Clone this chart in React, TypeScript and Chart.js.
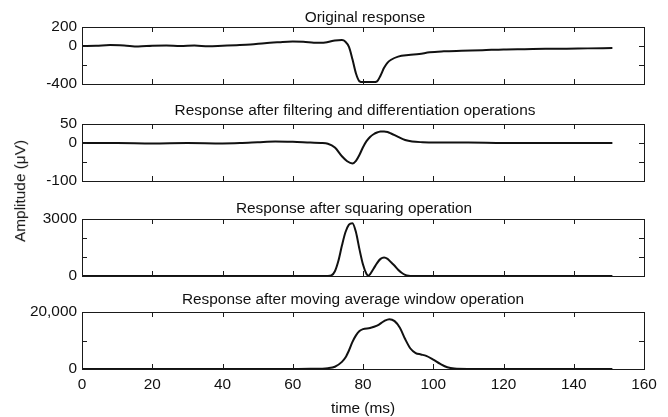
import React, { useEffect, useRef } from 'react';
import { Chart, registerables } from 'chart.js';

Chart.register(...registerables);

// ---------- data ----------
const xTicks = [0, 20, 40, 60, 80, 100, 120, 140, 160];
const xTickLabels = ['0', '20', '40', '60', '80', '100', '120', '140', '160'];

const panelTitles = [
  'Original response',
  'Response after filtering and differentiation operations',
  'Response after squaring operation',
  'Response after moving average window operation',
];

const timeOriginal = [0, 4, 8, 12, 16, 20, 24, 28, 32, 36, 40, 44, 48, 52, 56, 60, 63, 66, 68, 70, 72, 74, 75, 76, 77, 78, 79, 80, 83, 84, 85, 86, 87, 88, 90, 93, 96, 99, 103, 108, 114, 120, 126, 132, 138, 144, 151];
const valuesOriginal = [0, 2, 10, 5, -5, 3, 6, 0, 4, -2, 3, 8, 15, 30, 40, 48, 46, 35, 33, 42, 58, 62, 45, -10, -140, -290, -372, -380, -380, -372, -310, -230, -175, -145, -112, -95, -85, -66, -56, -50, -44, -36, -33, -30, -28, -25, -22];

const timeFiltered = [0, 10, 20, 30, 40, 45, 50, 55, 60, 65, 68, 70, 72, 74, 75.5, 77, 78, 79, 80, 81, 82, 83, 84, 85, 86, 87, 88, 90, 92, 94, 97, 100, 110, 120, 130, 140, 151];
const valuesFiltered = [0, 0, -1, 0, -1, 0, 2, 4, 3, 1, 0, -2, -12, -35, -48, -54, -47, -31, -11, 5, 16, 23, 27.5, 30, 30.5, 29, 25, 16, 8, 4, 2, 1, 1, 0, 0, 0, 0];

const timeSquared = [0, 30, 60, 70, 71, 72, 73, 74, 75, 76, 77, 78, 79, 80, 81, 81.5, 82, 83, 84, 85, 86, 87, 88, 89, 90, 91, 92, 93, 94, 100, 120, 151];
const valuesSquared = [0, 0, 0, 0, 30, 250, 800, 1600, 2300, 2700, 2780, 2300, 1400, 600, 100, 15, 90, 380, 680, 900, 970, 900, 720, 540, 330, 170, 60, 10, 0, 0, 0, 0];

const timeAveraged = [0, 30, 60, 65, 70, 72, 74, 75, 76, 77, 78, 79, 80, 82, 84, 86, 87.5, 89, 90.5, 92, 93.5, 95, 96.5, 98, 100, 102, 104, 106, 110, 130, 151];
const valuesAveraged = [0, 0, 0, 50, 300, 800, 2500, 4000, 6500, 9500, 11800, 13300, 14000, 14400, 15200, 16800, 17500, 16800, 14500, 10500, 7200, 5600, 5100, 4600, 3300, 1800, 600, 150, 20, 0, 0];

const yTicksOriginal = [-400, -200, 0, 200];
const yTickLabelsOriginal = ['-400', '', '0', '200'];
const yTicksFiltered = [-100, -50, 0, 50];
const yTickLabelsFiltered = ['-100', '', '0', '50'];
const yTicksSquared = [0, 1000, 2000, 3000];
const yTickLabelsSquared = ['0', '', '', '3000'];
const yTicksAveraged = [0, 10000, 20000];
const yTickLabelsAveraged = ['0', '', '20,000'];

const xAxisTitle = 'time (ms)';
const yAxisTitle = 'Amplitude (\u03BCV)';

// ---------- layout ----------
const W = 668;
const H = 417;
const FONT = "'Liberation Sans', Arial, Helvetica, sans-serif";
const FS = 15.4;

type PanelDef = {
  title: string;
  times: number[];
  values: number[];
  yTicks: number[];
  yLabels: string[];
  top: number;
  bottom: number;
  titleX: number;
  titleY: number;
  showX: boolean;
};

const panels: PanelDef[] = [
  { title: panelTitles[0], times: timeOriginal, values: valuesOriginal, yTicks: yTicksOriginal, yLabels: yTickLabelsOriginal, top: 27, bottom: 84, titleX: 365, titleY: 16.5, showX: false },
  { title: panelTitles[1], times: timeFiltered, values: valuesFiltered, yTicks: yTicksFiltered, yLabels: yTickLabelsFiltered, top: 124, bottom: 181, titleX: 355, titleY: 110, showX: false },
  { title: panelTitles[2], times: timeSquared, values: valuesSquared, yTicks: yTicksSquared, yLabels: yTickLabelsSquared, top: 219, bottom: 276, titleX: 354, titleY: 207.5, showX: false },
  { title: panelTitles[3], times: timeAveraged, values: valuesAveraged, yTicks: yTicksAveraged, yLabels: yTickLabelsAveraged, top: 312, bottom: 369, titleX: 353, titleY: 299, showX: true },
];

const PLOT_LEFT = 82;
const PLOT_RIGHT = 644;

const framePlugin = {
  id: 'frame',
  afterDatasetsDraw(chart: any, _args: any, opts: any) {
    const { ctx, chartArea: a, scales } = chart;
    const xs = scales.x;
    const ys = scales.y;
    ctx.save();
    ctx.strokeStyle = '#1a1a1a';
    ctx.lineWidth = 1;
    ctx.strokeRect(Math.round(a.left) + 0.5, Math.round(a.top) + 0.5, Math.round(a.right - a.left), Math.round(a.bottom - a.top));
    const L = 5;
    ctx.beginPath();
    (opts.xTicks as number[]).forEach((v) => {
      const px = Math.round(xs.getPixelForValue(v)) + 0.5;
      ctx.moveTo(px, a.top);
      ctx.lineTo(px, a.top + L);
      ctx.moveTo(px, a.bottom);
      ctx.lineTo(px, a.bottom - L);
    });
    (opts.yTicks as number[]).forEach((v) => {
      const py = Math.round(ys.getPixelForValue(v)) + 0.5;
      ctx.moveTo(a.left, py);
      ctx.lineTo(a.left + L, py);
      ctx.moveTo(a.right, py);
      ctx.lineTo(a.right - L, py);
    });
    ctx.stroke();
    ctx.restore();
  },
};

function Panel({ def }: { def: PanelDef }) {
  const ref = useRef<HTMLCanvasElement | null>(null);
  useEffect(() => {
    if (!ref.current) return;
    const yMin = def.yTicks[0];
    const yMax = def.yTicks[def.yTicks.length - 1];
    const xAxisHeight = 48;
    const chart = new Chart(ref.current, {
      type: 'line',
      data: {
        datasets: [
          {
            data: def.times.map((t, i) => ({ x: t, y: def.values[i] })),
            borderColor: '#111',
            borderWidth: 2,
            pointRadius: 0,
            fill: false,
            cubicInterpolationMode: 'monotone',
            clip: false as any,
          },
        ],
      },
      options: {
        responsive: false,
        animation: false,
        devicePixelRatio: 1,
        events: [],
        layout: {
          padding: {
            left: 0,
            right: W - PLOT_RIGHT,
            top: def.top,
            bottom: def.showX ? H - def.bottom - xAxisHeight : H - def.bottom,
          },
        },
        plugins: {
          legend: { display: false },
          tooltip: { enabled: false },
          title: { display: false },
          frame: { xTicks, yTicks: def.yTicks },
        } as any,
        scales: {
          x: {
            type: 'linear',
            min: 0,
            max: 160,
            display: def.showX,
            grid: { display: false, drawTicks: false },
            border: { display: false },
            afterBuildTicks: (s: any) => {
              s.ticks = xTicks.map((v) => ({ value: v }));
            },
            afterFit: (s: any) => {
              s.height = def.showX ? xAxisHeight : 0;
            },
            ticks: {
              autoSkip: false,
              maxRotation: 0,
              padding: 7,
              color: '#111',
              font: { family: FONT, size: FS },
              callback: (v: any) => {
                const i = xTicks.indexOf(Number(v));
                return i >= 0 ? xTickLabels[i] : '';
              },
            },
            title: {
              display: def.showX,
              text: xAxisTitle,
              color: '#111',
              font: { family: FONT, size: FS, lineHeight: 1.1 },
              padding: { top: 0, bottom: 0 },
            },
          },
          y: {
            type: 'linear',
            min: yMin,
            max: yMax,
            grid: { display: false, drawTicks: false },
            border: { display: false },
            afterBuildTicks: (s: any) => {
              s.ticks = def.yTicks.map((v) => ({ value: v }));
            },
            afterFit: (s: any) => {
              s.width = PLOT_LEFT;
            },
            ticks: {
              autoSkip: false,
              padding: 5,
              color: '#111',
              font: { family: FONT, size: FS },
              callback: (v: any) => {
                const i = def.yTicks.indexOf(Number(v));
                return i >= 0 ? def.yLabels[i] : '';
              },
            },
          },
        },
      } as any,
      plugins: [framePlugin as any],
    });
    return () => chart.destroy();
  }, [def]);
  return (
    <canvas
      ref={ref}
      width={W}
      height={H}
      style={{ position: 'absolute', left: 0, top: 0, width: W, height: H }}
    />
  );
}

export default function App() {
  useEffect(() => {
    document.body.style.margin = '0';
  }, []);
  const textStyle: React.CSSProperties = {
    position: 'absolute',
    fontFamily: FONT,
    fontSize: FS,
    color: '#111',
    whiteSpace: 'nowrap',
    lineHeight: 1.15,
    transform: 'translate(-50%, -50%)',
  };
  return (
    <div style={{ position: 'relative', width: W, height: H, background: '#fff', overflow: 'hidden' }}>
      {panels.map((p, i) => (
        <Panel key={i} def={p} />
      ))}
      {panels.map((p, i) => (
        <div key={'t' + i} style={{ ...textStyle, left: p.titleX, top: p.titleY }}>
          {p.title}
        </div>
      ))}
      <div style={{ ...textStyle, left: 20, top: 191, transform: 'translate(-50%, -50%) rotate(-90deg)' }}>
        {yAxisTitle}
      </div>
    </div>
  );
}
